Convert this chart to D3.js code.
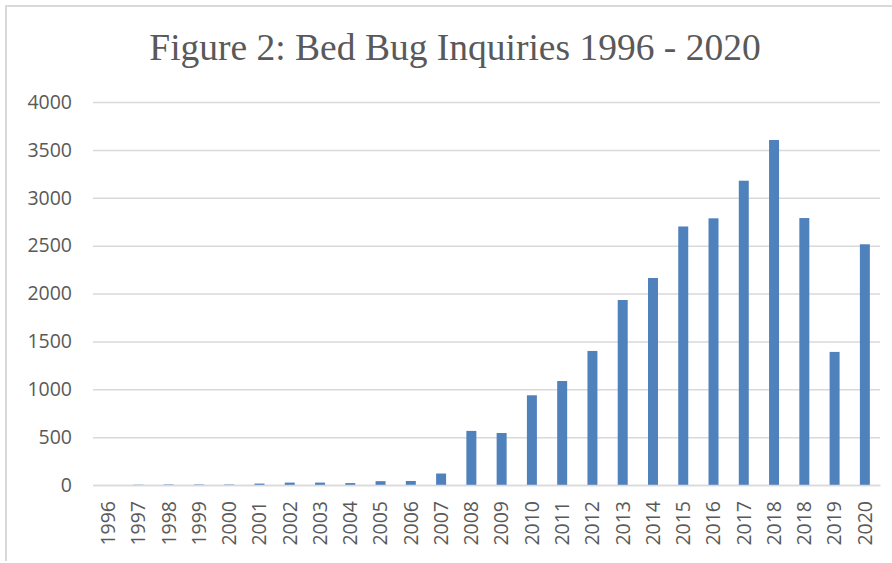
<!DOCTYPE html>
<html><head><meta charset="utf-8">
<script src="https://cdn.jsdelivr.net/npm/d3@7"></script>
<style>html,body{margin:0;padding:0;background:#fff;}</style>
</head><body>
<script>
const title = "Figure 2: Bed Bug Inquiries 1996 - 2020";
const categories = ["1996","1997","1998","1999","2000","2001","2002","2003","2004","2005","2006","2007","2008","2009","2010","2011","2012","2013","2014","2015","2016","2017","2018","2018","2019","2020"];
const values = [0,3,5,5,5,15,25,25,20,40,42,120,565,543,937,1086,1400,1932,2162,2700,2785,3178,3603,2788,1390,2514];
const yTicks = [0,500,1000,1500,2000,2500,3000,3500,4000];

(function(){
const W = 892, H = 563;
const svg = d3.select("body").append("svg").attr("width", W).attr("height", H);
svg.append("path").attr("d","M6,561V6H892").attr("fill","none")
  .attr("stroke","#d9d9d9").attr("stroke-width",2);

const pL = 93, pR = 880, pT = 102, pB = 485;
const x = d3.scaleBand().domain(d3.range(categories.length)).range([pL, pR]).padding(0.67).paddingOuter(0.335);
const y = d3.scaleLinear().domain([0,4000]).range([pB, pT]);

svg.append("text").attr("x",455).attr("y",60).attr("text-anchor","middle")
  .attr("font-family","'Liberation Serif','Times New Roman',serif").attr("font-size",37.5)
  .attr("fill","#595959").text(title);

const yAxis = d3.axisLeft(y).tickValues(yTicks).tickSize(-(pR-pL)).tickPadding(21).tickFormat(d3.format("d"));
const gy = svg.append("g").attr("transform",`translate(${pL},0)`).call(yAxis);
gy.select(".domain").remove();
gy.selectAll(".tick line").attr("stroke","#d9d9d9").attr("stroke-width",1.5);
gy.selectAll(".tick text").attr("font-family","'Open Sans',sans-serif").attr("font-size",19.5).attr("fill","#595959");

svg.append("g").selectAll("rect").data(values).join("rect")
  .attr("x",(d,i)=>x(i)).attr("width",x.bandwidth())
  .attr("y",d=>y(d)).attr("height",d=>pB-y(d))
  .attr("fill","#4f81bd");

const xAxis = d3.axisBottom(x).tickSize(0).tickPadding(0).tickFormat(i=>categories[i]);
const gx = svg.append("g").attr("transform",`translate(0,${pB})`).call(xAxis);
gx.select(".domain").attr("stroke","#d9d9d9").attr("stroke-width",1.5);
gx.selectAll(".tick text").attr("font-family","'Open Sans',sans-serif").attr("font-size",19.5).attr("fill","#595959")
  .attr("text-anchor","end").attr("dy","0.35em").attr("transform","translate(0,16) rotate(-90)").attr("y",0).attr("x",0);
})();
</script>
</body></html>
